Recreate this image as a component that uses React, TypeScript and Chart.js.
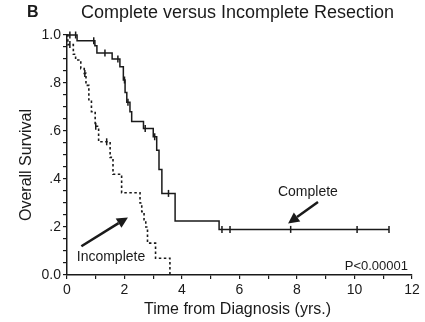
import React, { useEffect, useRef } from "react";
import { Chart, registerables } from "chart.js";

Chart.register(...registerables);

// Kaplan-Meier step curves (time in years, survival proportion)
const completeTimes = [0, 0.35, 0.97, 1.04, 1.57, 1.84, 1.96, 2.02, 2.08, 2.19, 2.25, 2.66, 3.0, 3.12, 3.2, 3.3, 3.76, 5.29, 11.2];
const completeSurv = [1.0, 0.976, 0.955, 0.925, 0.9, 0.868, 0.8125, 0.76, 0.72, 0.68, 0.64, 0.61, 0.576, 0.52, 0.44, 0.34, 0.225, 0.19, 0.19];

const incompleteTimes = [0, 0.03, 0.22, 0.3, 0.48, 0.6, 0.66, 0.76, 0.85, 0.98, 1.1, 1.5, 1.6, 1.9, 2.54, 2.6, 2.68, 2.74, 2.8, 3.08, 3.58];
const incompleteSurv = [1.0, 0.96, 0.92, 0.896, 0.86, 0.84, 0.79, 0.73, 0.68, 0.62, 0.555, 0.49, 0.42, 0.343, 0.3, 0.264, 0.23, 0.2, 0.133, 0.07, 0];

// Censored observations
const completeCensorTimes = [0.1, 0.3, 0.93, 1.32, 1.77, 2.0, 2.12, 2.72, 3.05, 3.53, 5.39, 5.67, 7.78, 10.09, 11.2];
const completeCensorSurv = [1.0, 1.0, 0.976, 0.925, 0.9, 0.8125, 0.72, 0.61, 0.576, 0.34, 0.19, 0.19, 0.19, 0.19, 0.19];
const incompleteCensorTimes = [0.1, 0.62, 1.0, 1.38];
const incompleteCensorSurv = [0.96, 0.84, 0.62, 0.555];

const xTickLabels = ["0", "2", "4", "6", "8", "10", "12"];
const yTickLabels = ["0.0", ".2", ".4", ".6", ".8", "1.0"];

const chartTitle = "Complete versus Incomplete Resection";
const panelLetter = "B";
const xAxisTitle = "Time from Diagnosis (yrs.)";
const yAxisTitle = "Overall Survival";
const pValueText = "P<0.00001";

const FONT = "'Liberation Sans', Arial, sans-serif";
const INK = "#1a1a1a";

const toPoints = (xs: number[], ys: number[]) => xs.map((x, i) => ({ x, y: ys[i] }));

function drawArrow(ctx: CanvasRenderingContext2D, x1: number, y1: number, x2: number, y2: number) {
  const ang = Math.atan2(y2 - y1, x2 - x1);
  const head = 11;
  const bx = x2 - head * Math.cos(ang);
  const by = y2 - head * Math.sin(ang);
  ctx.save();
  ctx.strokeStyle = INK;
  ctx.fillStyle = INK;
  ctx.lineWidth = 2.5;
  ctx.beginPath();
  ctx.moveTo(x1, y1);
  ctx.lineTo(bx, by);
  ctx.stroke();
  ctx.beginPath();
  ctx.moveTo(x2, y2);
  ctx.lineTo(bx + 5.5 * Math.sin(ang), by - 5.5 * Math.cos(ang));
  ctx.lineTo(bx - 5.5 * Math.sin(ang), by + 5.5 * Math.cos(ang));
  ctx.closePath();
  ctx.fill();
  ctx.restore();
}

const annotationPlugin = {
  id: "kmAnnotations",
  afterDraw(chart: any) {
    const { ctx, chartArea, scales } = chart;
    const xs = scales.x;
    const ys = scales.y;
    const px = (v: number) => xs.getPixelForValue(v);
    const py = (v: number) => ys.getPixelForValue(v);
    ctx.save();
    ctx.fillStyle = INK;
    ctx.textBaseline = "middle";

    // panel letter and title
    ctx.font = `bold 16px ${FONT}`;
    ctx.textAlign = "left";
    ctx.fillText(panelLetter, 27, 13);
    ctx.font = `18px ${FONT}`;
    ctx.textAlign = "center";
    ctx.fillText(chartTitle, (chartArea.left + chartArea.right) / 2 - 2, 13);

    // axis titles
    ctx.font = `16px ${FONT}`;
    ctx.fillText(xAxisTitle, (chartArea.left + chartArea.right) / 2 - 2, 310);
    ctx.save();
    ctx.translate(27, (chartArea.top + chartArea.bottom) / 2 + 10);
    ctx.rotate(-Math.PI / 2);
    ctx.fillText(yAxisTitle, 0, 0);
    ctx.restore();

    // curve labels
    ctx.font = `14px ${FONT}`;
    ctx.fillText("Complete", px(8.38), py(0.346));
    ctx.fillText("Incomplete", px(1.53), py(0.075));
    ctx.font = `13px ${FONT}`;
    ctx.textAlign = "right";
    ctx.fillText(pValueText, px(11.86), py(0.037));

    drawArrow(ctx, px(8.73), py(0.304), px(7.69), py(0.215));
    drawArrow(ctx, px(0.5), py(0.12), px(2.12), py(0.24));
    ctx.restore();
  },
};

export default function App() {
  const canvasRef = useRef<HTMLCanvasElement | null>(null);

  useEffect(() => {
    if (!canvasRef.current) return;
    const chart = new Chart(canvasRef.current, {
      type: "line",
      data: {
        datasets: [
          {
            label: "Complete",
            data: toPoints(completeTimes, completeSurv),
            stepped: "before",
            borderColor: INK,
            borderWidth: 1.5,
            pointRadius: 0,
            fill: false,
            clip: 8,
          },
          {
            label: "Incomplete",
            data: toPoints(incompleteTimes, incompleteSurv),
            stepped: "before",
            borderColor: INK,
            borderWidth: 1.6,
            borderDash: [2.5, 2.5],
            pointRadius: 0,
            fill: false,
            clip: 8,
          },
          {
            label: "Complete censored",
            data: toPoints(completeCensorTimes, completeCensorSurv),
            showLine: false,
            pointStyle: "line",
            rotation: 90,
            pointRadius: 3.5,
            pointBorderWidth: 1.5,
            borderColor: INK,
            clip: 8,
          },
          {
            label: "Incomplete censored",
            data: toPoints(incompleteCensorTimes, incompleteCensorSurv),
            showLine: false,
            pointStyle: "line",
            rotation: 90,
            pointRadius: 3.5,
            pointBorderWidth: 1.5,
            borderColor: INK,
            clip: 8,
          },
        ],
      },
      options: {
        animation: false,
        responsive: false,
        layout: { padding: { left: 0, top: 35, right: 13, bottom: 0 } },
        plugins: {
          legend: { display: false },
          tooltip: { enabled: false },
          title: { display: false },
        },
        scales: {
          x: {
            type: "linear",
            min: 0,
            max: 12,
            afterFit: (s: any) => {
              s.height = 47;
            },
            border: { display: true, color: INK, width: 1.5 },
            grid: { drawOnChartArea: false, drawTicks: true, tickLength: 4, color: INK, lineWidth: 1.2 },
            ticks: {
              stepSize: 1,
              autoSkip: false,
              maxRotation: 0,
              padding: 3,
              color: INK,
              font: { family: FONT, size: 14 },
              callback: (v: any) => {
                const n = Math.round(Number(v));
                return n % 2 === 0 ? xTickLabels[n / 2] : "";
              },
            },
          },
          y: {
            type: "linear",
            min: 0,
            max: 1,
            afterFit: (s: any) => {
              s.width = 67;
            },
            border: { display: true, color: INK, width: 1.5 },
            grid: { drawOnChartArea: false, drawTicks: true, tickLength: 4, color: INK, lineWidth: 1.2 },
            ticks: {
              stepSize: 0.05,
              autoSkip: false,
              padding: 2,
              color: INK,
              font: { family: FONT, size: 14 },
              callback: (v: any) => {
                const n = Math.round(Number(v) * 100);
                return n % 20 === 0 ? yTickLabels[n / 20] : "";
              },
            },
          },
        },
      },
      plugins: [annotationPlugin],
    } as any);
    return () => chart.destroy();
  }, []);

  return (
    <div style={{ position: "absolute", left: 0, top: 0, width: 425, height: 322, background: "#fff" }}>
      <canvas ref={canvasRef} width={425} height={322} style={{ display: "block" }} />
    </div>
  );
}
